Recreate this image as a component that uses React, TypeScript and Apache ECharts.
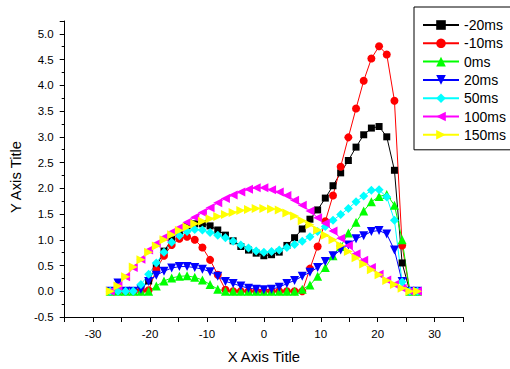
import React, { useEffect, useRef } from "react";
import * as echarts from "echarts";

const xValues = [-27, -25.65, -24.3, -22.95, -21.6, -20.25, -18.9, -17.55, -16.2, -14.85, -13.5, -12.15, -10.8, -9.45, -8.1, -6.75, -5.4, -4.05, -2.7, -1.35, 0, 1.35, 2.7, 4.05, 5.4, 6.75, 8.1, 9.45, 10.8, 12.15, 13.5, 14.85, 16.2, 17.55, 18.9, 20.25, 21.6, 22.95, 24.3, 25.65, 27];

const seriesNames = ["-20ms", "-10ms", "0ms", "20ms", "50ms", "100ms", "150ms"];

const m20 = [0, 0, 0, 0, 0.05, 0.2, 0.48, 0.78, 1.0, 1.17, 1.27, 1.31, 1.31, 1.27, 1.19, 1.09, 0.98, 0.87, 0.8, 0.74, 0.69, 0.71, 0.76, 0.89, 1.04, 1.21, 1.4, 1.58, 1.81, 2.05, 2.3, 2.54, 2.8, 3.04, 3.17, 3.2, 3.0, 2.35, 0.55, 0, 0];
const m10 = [0, 0, 0, 0, 0, 0.02, 0.42, 0.69, 0.9, 1.02, 1.06, 1.0, 0.85, 0.61, 0.32, 0.03, 0, 0, 0, 0, 0, 0, 0, 0, 0, 0, 0.44, 0.87, 1.36, 1.86, 2.42, 2.99, 3.55, 4.09, 4.52, 4.76, 4.6, 3.7, 0.89, 0, 0];
const p0 = [0, 0, 0, 0, 0, 0, 0.1, 0.2, 0.26, 0.29, 0.3, 0.27, 0.22, 0.13, 0.04, 0, 0, 0, 0, 0, 0, 0, 0, 0, 0, 0.04, 0.12, 0.29, 0.46, 0.69, 0.87, 1.13, 1.34, 1.56, 1.74, 1.84, 1.88, 1.67, 1.0, 0, 0];
const p20 = [0, 0.16, 0, 0, 0.04, 0.19, 0.31, 0.39, 0.45, 0.48, 0.48, 0.46, 0.43, 0.38, 0.29, 0.19, 0.15, 0.1, 0.06, 0.04, 0.03, 0.04, 0.08, 0.15, 0.21, 0.29, 0.37, 0.46, 0.58, 0.69, 0.8, 0.9, 1.02, 1.08, 1.16, 1.18, 1.11, 0.8, 0.19, 0, 0];
const p50 = [0, 0, 0, 0, 0.13, 0.33, 0.55, 0.76, 0.95, 1.08, 1.16, 1.2, 1.19, 1.14, 1.09, 1.04, 0.97, 0.9, 0.84, 0.78, 0.76, 0.77, 0.8, 0.85, 0.91, 0.97, 1.06, 1.16, 1.26, 1.38, 1.49, 1.61, 1.74, 1.85, 1.96, 1.97, 1.83, 1.38, 0.18, 0, 0];
const p100 = [0, 0.1, 0.28, 0.46, 0.62, 0.8, 0.93, 1.05, 1.15, 1.24, 1.34, 1.44, 1.53, 1.62, 1.72, 1.8, 1.87, 1.93, 1.98, 2.01, 2.01, 1.97, 1.93, 1.86, 1.77, 1.67, 1.56, 1.43, 1.32, 1.17, 1.03, 0.89, 0.73, 0.6, 0.46, 0.33, 0.22, 0.13, 0.06, 0, 0];
const p150 = [0, 0.1, 0.28, 0.47, 0.61, 0.76, 0.88, 1.0, 1.1, 1.18, 1.25, 1.31, 1.36, 1.41, 1.45, 1.49, 1.53, 1.57, 1.59, 1.61, 1.61, 1.6, 1.58, 1.52, 1.46, 1.37, 1.29, 1.19, 1.09, 1.0, 0.89, 0.77, 0.65, 0.53, 0.42, 0.32, 0.21, 0.13, 0.06, 0, 0];

const seriesValues = [m20, m10, p0, p20, p50, p100, p150];
const colors = ["#000000", "#ff0000", "#00ff00", "#0000ff", "#00ffff", "#ff00ff", "#ffff00"];
const symbols = [
  "rect",
  "circle",
  "triangle",
  "path://M0,0L10,0L5,10Z",
  "diamond",
  "path://M10,0L10,10L0,5Z",
  "path://M0,0L10,5L0,10Z",
];
const symbolSizes = [7, 8, 9, 9, 9, 9, 9];

const FONT = "'Liberation Sans', Arial, sans-serif";

export default function App() {
  const ref = useRef<HTMLDivElement>(null);
  useEffect(() => {
    if (!ref.current) return;
    const chart = echarts.init(ref.current, null, { renderer: "svg" });
    chart.setOption({
      animation: false,
      backgroundColor: "#ffffff",
      textStyle: { fontFamily: FONT },
      grid: { left: 61, right: 47, top: 21, bottom: 49, containLabel: false },
      legend: {
        orient: "vertical",
        left: 414,
        top: 7,
        padding: [11, 8, 8, 8],
        itemWidth: 36,
        itemHeight: 12,
        itemGap: 4.3,
        borderColor: "#000",
        borderWidth: 1,
        textStyle: { fontFamily: FONT, fontSize: 14, color: "#000" },
        data: seriesNames,
      },
      xAxis: {
        type: "value",
        min: -35,
        max: 35,
        interval: 5,
        name: "X Axis Title",
        nameLocation: "middle",
        nameGap: 32,
        nameTextStyle: { fontFamily: FONT, fontSize: 14.8, color: "#000" },
        axisLine: { onZero: false, lineStyle: { color: "#000", width: 1 } },
        axisTick: { inside: false, length: 5, lineStyle: { color: "#000" } },
        axisLabel: {
          fontFamily: FONT,
          fontSize: 11.5,
          color: "#000",
          margin: 11,
          formatter: (v: number) => (Math.round(v) % 10 === 0 ? String(v) : ""),
        },
        splitLine: { show: false },
      },
      yAxis: {
        type: "value",
        min: -0.5,
        max: 5.25,
        interval: 0.5,
        name: "Y Axis Title",
        nameLocation: "middle",
        nameGap: 27,
        nameTextStyle: { fontFamily: FONT, fontSize: 14.8, color: "#000", padding: [0, 16, 0, 0] },
        axisLine: { show: true, onZero: false, lineStyle: { color: "#000", width: 1 } },
        axisTick: { inside: false, length: 5, lineStyle: { color: "#000" } },
        minorTick: { show: true, splitNumber: 2, length: 3, lineStyle: { color: "#000" } },
        axisLabel: {
          fontFamily: FONT,
          fontSize: 11.5,
          color: "#000",
          margin: 11,
          formatter: (v: number) =>
            Math.abs(v * 2 - Math.round(v * 2)) < 1e-6 ? v.toFixed(1) : "",
        },
        splitLine: { show: false },
      },
      series: seriesNames.map((name, i) => ({
        name,
        type: "line",
        data: xValues.map((x, k) => [x, seriesValues[i][k]]),
        symbol: symbols[i],
        symbolSize: symbolSizes[i],
        showAllSymbol: true,
        lineStyle: { color: colors[i], width: 1 },
        itemStyle: { color: colors[i], borderWidth: 0 },
        emphasis: { disabled: true },
      })),
    });
    return () => chart.dispose();
  }, []);
  return (
    <div
      ref={ref}
      style={{ position: "fixed", left: 0, top: 0, width: 510, height: 369, background: "#fff" }}
    />
  );
}
